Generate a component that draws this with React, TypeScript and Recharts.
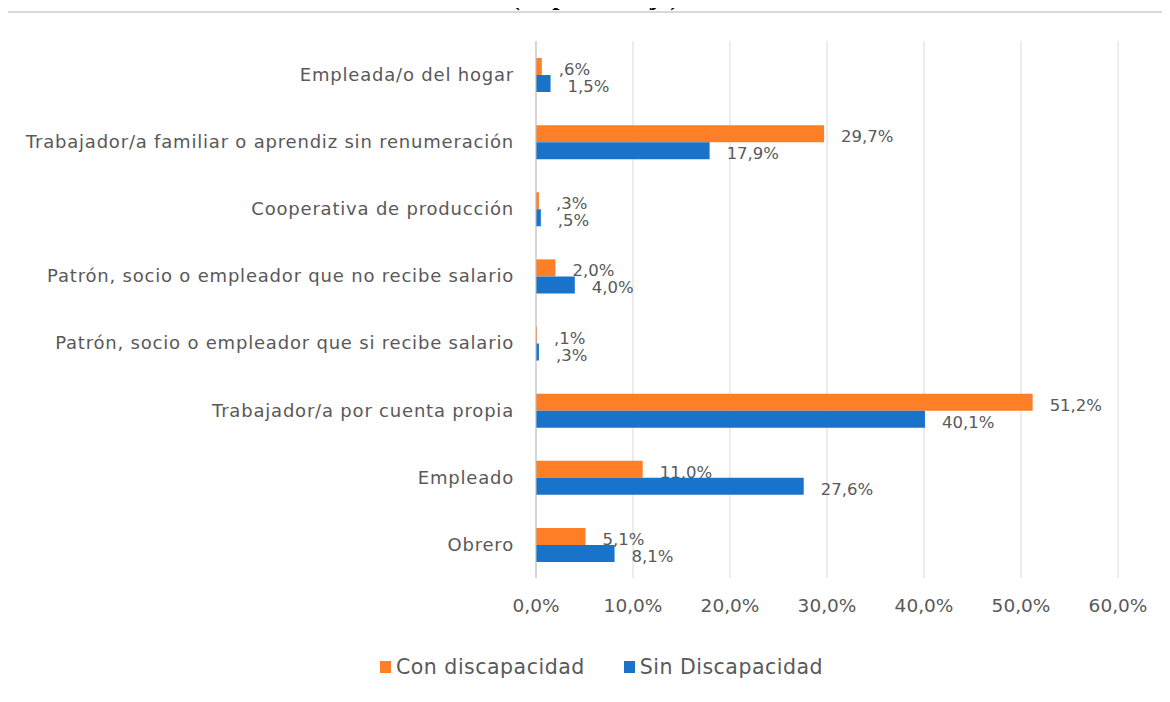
import React from 'react';
import { BarChart, Bar, XAxis, YAxis, CartesianGrid, Legend, LabelList } from 'recharts';

const categories = [
  'Empleada/o del hogar',
  'Trabajador/a familiar o aprendiz sin renumeración',
  'Cooperativa de producción',
  'Patrón, socio o empleador que no recibe salario',
  'Patrón, socio o empleador que si recibe salario',
  'Trabajador/a por cuenta propia',
  'Empleado',
  'Obrero',
];
const conDiscapacidad = [0.6, 29.7, 0.3, 2.0, 0.1, 51.2, 11.0, 5.1];
const sinDiscapacidad = [1.5, 17.9, 0.5, 4.0, 0.3, 40.1, 27.6, 8.1];
const xTicks = [0, 10, 20, 30, 40, 50, 60];
const seriesNames = ['Con discapacidad', 'Sin Discapacidad'];
const seriesColors = ['#FF7F27', '#1A73CB'];
const titleText = '(en porcentaje)';

const data = categories.map((c, i) => ({ name: c, con: conDiscapacidad[i], sin: sinDiscapacidad[i] }));

const FONT = '"DejaVu Sans", sans-serif';
const TEXT = '#595959';

const fmtLabel = (v: number) => {
  let s = v.toFixed(1).replace('.', ',');
  if (s.startsWith('0,')) s = s.slice(1);
  return s + '%';
};
const fmtTick = (v: number) => v.toFixed(1).replace('.', ',') + '%';

const renderLabel = (props: any) => {
  const { x, y, width, height, value } = props;
  return (
    <text
      x={Number(x) + Number(width) + 17}
      y={Number(y) + Number(height) / 2 + 3}
      dominantBaseline="central"
      fontSize={16.5}
      fontFamily={FONT}
      fill={TEXT}
    >
      {fmtLabel(Number(value))}
    </text>
  );
};

const renderLegend = () => (
  <div
    style={{
      display: 'flex',
      alignItems: 'center',
      fontFamily: FONT,
      fontSize: 20.5,
      letterSpacing: 0.5,
      color: TEXT,
      height: 30,
    }}
  >
    {seriesNames.map((n, i) => (
      <div key={n} style={{ display: 'flex', alignItems: 'center', marginRight: 39 }}>
        <span style={{ display: 'inline-block', width: 11, height: 12, background: seriesColors[i], marginRight: 5 }} />
        <span>{n}</span>
      </div>
    ))}
  </div>
);

export default function App() {
  return (
    <div style={{ position: 'relative', width: 1170, height: 702, margin: -8, overflow: 'hidden', background: '#fff' }}>
      <div style={{ position: 'absolute', left: 0, top: 0 }}>
        <BarChart
          width={1170}
          height={702}
          data={data}
          layout="vertical"
          margin={{ top: 41, right: 52, bottom: 54, left: 8 }}
          barSize={17}
          barGap={0}
        >
          <CartesianGrid horizontal={false} vertical={true} stroke="#d9d9d9" />
          <XAxis
            type="number"
            domain={[0, 60]}
            ticks={xTicks}
            tickFormatter={fmtTick}
            axisLine={false}
            tickLine={false}
            tickSize={6}
            tickMargin={15}
            height={40}
            interval={0}
            tick={{ fontSize: 18.5, fontFamily: FONT, fill: TEXT }}
          />
          <YAxis
            type="category"
            dataKey="name"
            width={528}
            axisLine={{ stroke: '#bfbfbf' }}
            tickLine={false}
            tickSize={6}
            tickMargin={16}
            interval={0}
            tick={{ fontSize: 18, fontFamily: FONT, fill: TEXT, letterSpacing: 0.8 }}
          />
          <Legend
            verticalAlign="bottom"
            content={renderLegend}
            wrapperStyle={{ position: 'absolute', left: 380, top: 652, width: 600, height: 30 }}
          />
          <Bar dataKey="con" name={seriesNames[0]} fill={seriesColors[0]} isAnimationActive={false}>
            <LabelList dataKey="con" content={renderLabel} />
          </Bar>
          <Bar dataKey="sin" name={seriesNames[1]} fill={seriesColors[1]} isAnimationActive={false}>
            <LabelList dataKey="sin" content={renderLabel} />
          </Bar>
        </BarChart>
      </div>
      <div style={{ position: 'absolute', left: 6, top: 11, width: 2, height: 700, background: '#cccccc', pointerEvents: 'none' }} />
      <div style={{ position: 'absolute', left: 6, top: 11, width: 1170, height: 2, background: '#d8d8d8', pointerEvents: 'none' }} />
      <div
        style={{
          position: 'absolute',
          left: 0,
          width: 1190,
          top: -16,
          textAlign: 'center',
          fontFamily: '"Liberation Serif", serif',
          fontWeight: 'bold',
          fontSize: 26,
          lineHeight: 1,
          color: '#000',
          whiteSpace: 'nowrap',
        }}
      >
        {titleText}
      </div>
    </div>
  );
}
